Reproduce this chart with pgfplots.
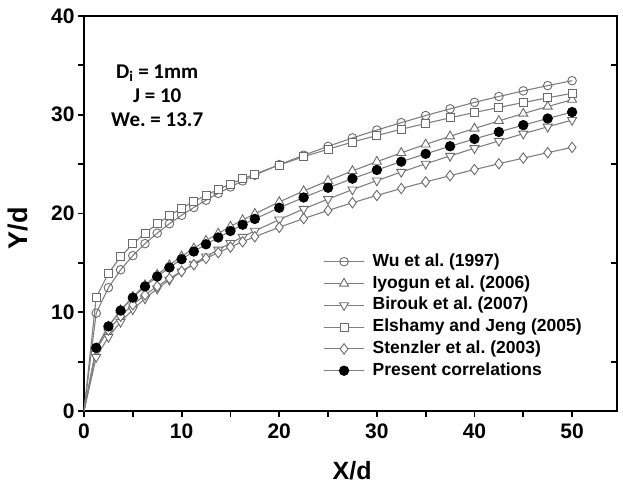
\documentclass[border=0pt]{standalone}
\usepackage{fontspec}
\setmainfont{Liberation Sans}
\newfontfamily\calfont{Carlito}
\usepackage{pgfplots}
\usepackage{pgfplotstable}
\pgfplotsset{compat=1.18}
\definecolor{lc}{gray}{0.5}
\definecolor{mc}{gray}{0.42}

\pgfplotstableread{
x wu iyo bir els ste pre
0 0 0 0 0 0 0
1.25 9.91 6.34 5.46 11.49 6.23 6.40
2.5 12.49 8.57 7.49 13.95 8.19 8.57
3.75 14.30 10.22 9.02 15.62 9.61 10.17
5 15.73 11.58 10.29 16.92 10.76 11.48
6.25 16.95 12.76 11.39 18.01 11.76 12.61
7.5 18.01 13.81 12.38 18.95 12.63 13.62
8.75 18.96 14.77 13.28 19.78 13.42 14.53
10 19.82 15.66 14.12 20.53 14.15 15.37
11.25 20.61 16.48 14.90 21.22 14.82 16.15
12.5 21.35 17.25 15.64 21.85 15.45 16.88
13.75 22.04 17.98 16.33 22.44 16.04 17.57
15 22.69 18.68 17.00 22.99 16.60 18.23
16.25 23.30 19.34 17.63 23.51 17.14 18.86
17.5 23.88 19.97 18.24 24.00 17.65 19.45
20 24.95 21.17 19.38 24.91 18.60 20.58
22.5 25.90 22.28 20.46 25.75 19.49 21.62
25 26.80 23.32 21.46 26.51 20.31 22.61
27.5 27.65 24.31 22.42 27.23 21.09 23.53
30 28.45 25.25 23.33 27.90 21.83 24.41
32.5 29.20 26.14 24.20 28.53 22.53 25.25
35 29.92 27.00 25.03 29.12 23.20 26.04
37.5 30.60 27.82 25.83 29.69 23.83 26.81
40 31.25 28.61 26.61 30.23 24.45 27.55
42.5 31.85 29.38 27.35 30.74 25.04 28.26
45 32.42 30.12 28.08 31.24 25.61 28.95
47.5 32.95 30.83 28.78 31.71 26.16 29.62
50 33.45 31.53 29.46 32.17 26.70 30.27
}\data

\begin{document}
\frenchspacing
\begin{tikzpicture}
\useasboundingbox (-84pt,-76pt) rectangle (539pt,411pt);
\begin{axis}[
 at={(0pt,0pt)}, anchor=south west,
 width=533pt, height=395pt, scale only axis,
 xmin=0, xmax=54.6, ymin=0, ymax=40,
 xtick={0,10,...,50}, ytick={0,10,...,40},
 minor x tick num=1, minor y tick num=1,
 xtick pos=bottom, ytick pos=left, tick align=outside,
 major tick length=6pt, minor tick length=6pt,
 tick style={line width=1.8pt, black},
 axis line style={line width=2.2pt},
 ticklabel style={font=\fontsize{21}{23}\selectfont\bfseries},
 xticklabel style={yshift=-3pt},
 /pgf/number format/assume math mode=true,
 xlabel={X/d}, ylabel={Y/d},
 xlabel style={font=\fontsize{25}{28}\selectfont\bfseries, at={(axis description cs:0.503,-0.152)}, anchor=center},
 ylabel style={font=\fontsize{27}{30}\selectfont\bfseries, at={(axis description cs:-0.124,0.463)}, anchor=center},
 legend style={at={(axis description cs:0.449,0.40)}, anchor=north west, draw=none, fill=none,
   font=\fontsize{17.5}{19}\selectfont\bfseries, row sep=4.8pt, inner sep=0pt,
   nodes={inner sep=0pt, text height=13pt, text depth=4pt}},
 legend cell align=left,
 legend image code/.code={\draw[#1, mark repeat=2, mark phase=2] plot coordinates {(0pt,0pt) (20pt,0pt) (40pt,0pt)}; \path (48pt,0pt);},
 every axis plot/.append style={line width=1.1pt, color=lc, mark repeat=1, mark phase=2},
]
\addplot[color=lc, mark=o, mark size=4.3pt, mark options={draw=mc, fill=white, line width=0.9pt}] table[x=x,y=wu]{\data};
\addlegendentry{Wu et al. (1997)}
\addplot[color=lc, mark=triangle*, mark size=5.2pt, mark options={draw=mc, fill=white, line width=0.9pt}] table[x=x,y=iyo]{\data};
\addlegendentry{Iyogun et al. (2006)}
\addplot[color=lc, mark=triangle*, mark size=5.2pt, mark options={draw=mc, fill=white, line width=0.9pt, rotate=180}] table[x=x,y=bir]{\data};
\addlegendentry{Birouk et al. (2007)}
\addplot[color=lc, mark=square*, mark size=4pt, mark options={draw=mc, fill=white, line width=0.9pt}] table[x=x,y=els]{\data};
\addlegendentry{Elshamy and Jeng (2005)}
\addplot[color=lc, mark=diamond*, mark size=5.2pt, mark options={draw=mc, fill=white, line width=0.9pt}] table[x=x,y=ste]{\data};
\addlegendentry{Stenzler et al. (2003)}
\addplot[color=lc, mark=*, mark size=4.6pt, mark options={draw=black, fill=black}] table[x=x,y=pre]{\data};
\addlegendentry{Present correlations}
\node[font=\calfont\fontsize{21}{24}\selectfont\bfseries, align=center] at (axis cs:7.5,31.9) {D\textsubscript{i} = 1mm\\J = 10\\We. = 13.7};
\end{axis}
\begin{axis}[
 at={(0pt,0pt)}, anchor=south west,
 width=533pt, height=395pt, scale only axis,
 xmin=0, xmax=54.6, ymin=0, ymax=40,
 axis line style={draw=none},
 xtick=\empty, ytick={5,15,25,35}, yticklabels={},
 ytick pos=right, tick align=inside,
 major tick length=6pt,
 tick style={line width=1.8pt, black},
]
\addplot[draw=none] coordinates {(0,0)};
\end{axis}
\end{tikzpicture}
\end{document}
